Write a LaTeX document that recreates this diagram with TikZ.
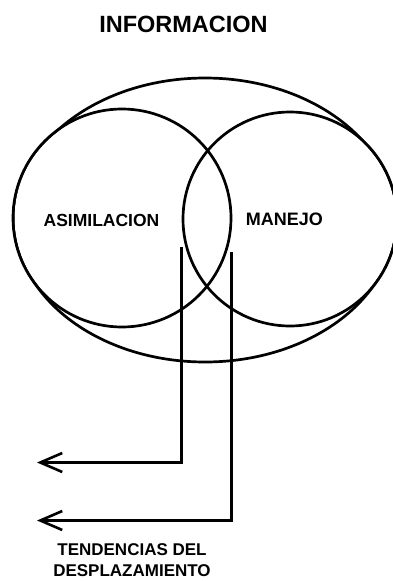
\documentclass[tikz,border=0pt]{standalone}
\usepackage{fontspec}
\setmainfont{Liberation Sans}
\usetikzlibrary{arrows.meta,backgrounds}
\tikzset{
  ring/.style={draw, circle, inner sep=0pt, line width=2.7pt, minimum size=#1},
  ring/.default=216pt,
  lbl/.style={font=\bfseries\fontsize{#1}{#1}\selectfont, inner sep=0pt},
  lbl/.default=17,
  arr/.style={-{Straight Barb[length=22pt,width=19pt,line width=2.6pt]}, line width=2.7pt},
}
\begin{document}
\begin{tikzpicture}[x=1pt, y=-1pt]
  \useasboundingbox (0,0) rectangle (393,581);
  \node[lbl=23.5] (info) at (183.5,24) {INFORMACION};
  \node[ring=218pt] (asim) at (122,218) {};
  \node[ring=214pt] (man) at (290,219) {};
  \node[lbl=17.5] (asimtxt) at (101.5,220) {ASIMILACION};
  \node[lbl=18] (mantxt) at (284.5,219) {MANEJO};
  % the outer field, hidden where the two circles lie
  \begin{scope}[on background layer]
    \draw[line width=2.7pt] (205,220) ellipse [x radius=190, y radius=142];
    \fill[white] (asim.center) circle[radius=107.5] (man.center) circle[radius=105.5];
  \end{scope}
  \coordinate (a1) at (181.5,247);
  \coordinate (a2) at (231.5,252);
  \coordinate (t1) at (37,462.5);
  \coordinate (t2) at (37,520.5);
  \draw[arr] (a1) |- (t1);
  \draw[arr] (a2) |- (t2);
  \node[font=\bfseries\fontsize{17}{21}\selectfont, inner sep=0pt, align=center, anchor=north] (tend) at (132,543) {TENDENCIAS DEL\\DESPLAZAMIENTO};
\end{tikzpicture}
\end{document}
